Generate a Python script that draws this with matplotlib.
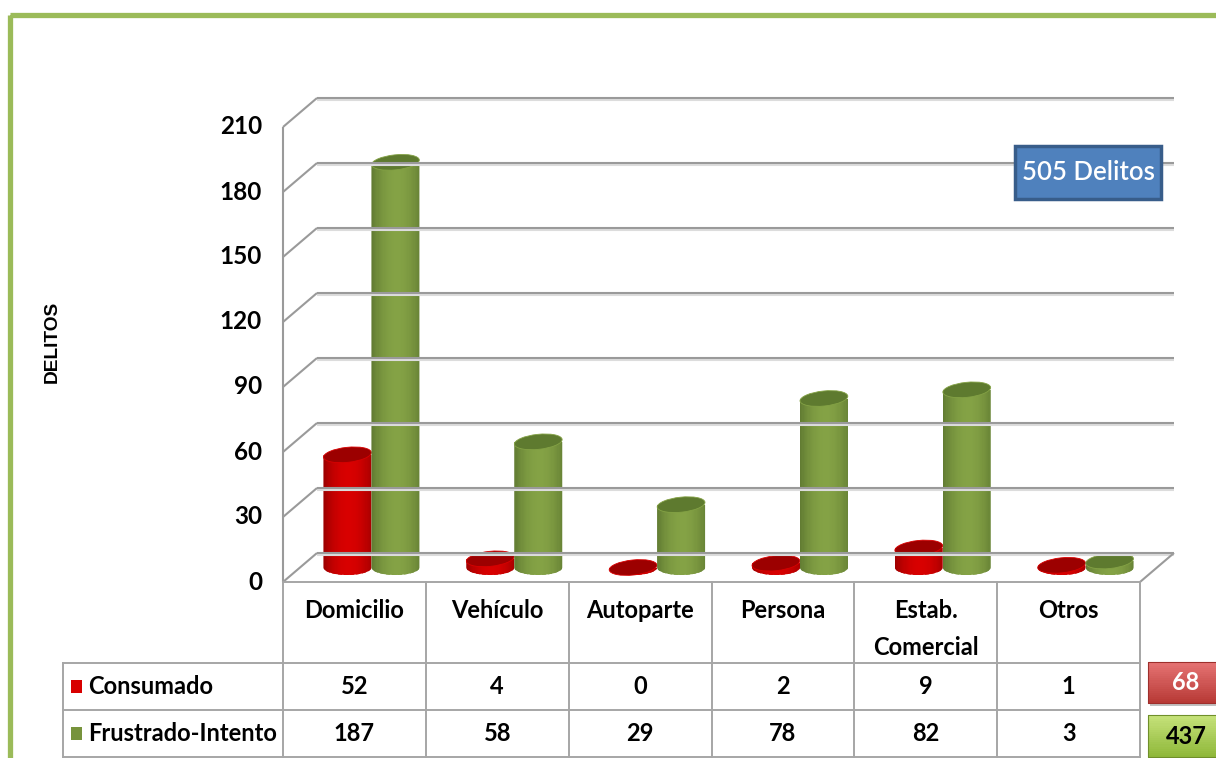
import matplotlib
matplotlib.use("Agg")
import matplotlib.pyplot as plt
import matplotlib.transforms as mtransforms
from matplotlib.patches import Rectangle, Ellipse, PathPatch
from matplotlib.path import Path
import matplotlib.colors as mcolors
import numpy as np

categories = ["Domicilio", "Vehículo", "Autoparte", "Persona", "Estab.\nComercial", "Otros"]
consumado = [52, 4, 0, 2, 9, 1]
frustrado = [187, 58, 29, 78, 82, 3]
series_names = ["Consumado", "Frustrado-Intento"]
yticks = [0, 30, 60, 90, 120, 150, 180, 210]
total_consumado = 68
total_frustrado = 437
total_label = "505 Delitos"

FONT = ["Lato", "DejaVu Sans"]
W, H = 1216, 758
DEPTH = (34, 29)           # pixel offset front -> back wall
BAR_PX = 48                # cylinder diameter in pixels
RY = 7.5                   # ellipse half-height

body_colors = {0: ("#8a0000", "#d80000"), 1: ("#566f2c", "#84a245")}
top_colors = {0: "#9c0000", 1: "#5e7a2f"}

fig = plt.figure(figsize=(W / 100, H / 100), dpi=100)
fig_px = mtransforms.Affine2D().scale(1, -1).translate(0, H)

ax = fig.add_axes([283 / W, (H - 582) / H, (1140 - 283) / W, (582 - 127) / H])
ax.set_xlim(0, len(categories))
ax.set_ylim(0, 210)
ax.axis("off")

back = mtransforms.offset_copy(ax.transData, x=DEPTH[0], y=DEPTH[1], units="dots")
mid = mtransforms.offset_copy(ax.transData, x=DEPTH[0] / 2, y=DEPTH[1] / 2, units="dots")
inv = ax.transData.inverted()


def at_depth(x, y, f):
    px, py = ax.transData.transform((x, y))
    return inv.transform((px + DEPTH[0] * f, py + DEPTH[1] * f))


grid_kw = dict(color="#9a9a9a", lw=1.5, solid_capstyle="butt", clip_on=False)
shadow_kw = dict(color="#dcdcdc", lw=1.5, solid_capstyle="butt", clip_on=False)
nx = len(categories)
below = mtransforms.offset_copy(back, x=0, y=-2, units="dots")
for v in yticks:
    ax.plot([0, nx], [v, v], transform=below, **shadow_kw)
    ax.plot([0, nx], [v, v], transform=back, **grid_kw)
    b = at_depth(0, v, 1)
    ax.plot([0, b[0]], [v, b[1]], **grid_kw)
    ax.text(0, v, str(v), transform=mtransforms.offset_copy(ax.transData, x=-21, y=0, units="dots"),
            ha="right", va="center", fontsize=17.5, fontweight="bold", family=FONT)
ax.plot([0, 0], [0, 210], **grid_kw)
b = at_depth(nx, 0, 1)
ax.plot([nx, b[0]], [0, b[1]], **grid_kw)

# cylinders
px_x = ax.transData.transform((1, 0))[0] - ax.transData.transform((0, 0))[0]
px_y = ax.transData.transform((0, 1))[1] - ax.transData.transform((0, 0))[1]
w = BAR_PX / px_x
r = BAR_PX / 2


def shade(c_edge, c_mid, t):
    f = np.sin(np.pi * np.clip(t * 0.85 + 0.05, 0, 1)) ** 0.8
    a = np.array(mcolors.to_rgb(c_edge))
    b = np.array(mcolors.to_rgb(c_mid))
    return a + (b - a) * f


for i in range(nx):
    for s, vals in enumerate([consumado, frustrado]):
        cx = i + 0.5 + (s - 0.5) * w
        h = vals[i] * px_y
        local = mtransforms.Affine2D() + mtransforms.ScaledTranslation(cx, 0, mid)
        th = np.linspace(np.pi, 2 * np.pi, 40)
        verts = [(-r, h), (-r, 0)] + [(r * np.cos(t), RY * np.sin(t)) for t in th] + [(r, h), (-r, h)]
        body = PathPatch(Path(verts), facecolor="none", edgecolor="none", transform=local)
        ax.add_patch(body)
        n = 40
        for k in range(n):
            x0 = -r + 2 * r * k / n
            strip = Rectangle((x0, -RY - 1), 2 * r / n + 0.8, h + RY + 1, lw=0,
                              facecolor=shade(*body_colors[s], (k + 0.5) / n), transform=local)
            ax.add_patch(strip)
            strip.set_clip_path(body)
        ax.add_patch(Ellipse((0, h), 2 * r, 2 * RY, angle=6, facecolor=top_colors[s],
                             edgecolor=shade(*body_colors[s], 0.5), lw=0.6, transform=local))

# table
col_x = [ax.transData.transform((c, 0))[0] for c in range(nx + 1)]
left_x = 63
line_kw = dict(color="#a6a6a6", lw=1.4, transform=fig_px)
row_y = [582, 663, 710, 757]
fig.add_artist(plt.Line2D([col_x[0], col_x[-1]], [582, 582], **line_kw))
for y in row_y[1:]:
    fig.add_artist(plt.Line2D([left_x, col_x[-1]], [y, y], **line_kw))
for x in col_x:
    fig.add_artist(plt.Line2D([x, x], [582, 757], **line_kw))
fig.add_artist(plt.Line2D([left_x, left_x], [663, 757], **line_kw))

txt_kw = dict(fontsize=17, fontweight="bold", family=FONT, transform=fig_px)
for i, name in enumerate(categories):
    xc = (col_x[i] + col_x[i + 1]) / 2
    fig.text(xc, 599, name, ha="center", va="top", linespacing=1.75, **txt_kw)
for row, (name, vals) in enumerate(zip(series_names, [consumado, frustrado])):
    yc = (row_y[row + 1] + row_y[row + 2]) / 2
    fig.add_artist(Rectangle((71, yc - 7), 11, 13, facecolor=body_colors[row][1] if row == 0 else "#77933c",
                             edgecolor="none", transform=fig_px))
    fig.text(88, yc, name, ha="left", va="center", **txt_kw)
    for i, v in enumerate(vals):
        xc = (col_x[i] + col_x[i + 1]) / 2
        fig.text(xc, yc, str(v), ha="center", va="center", **txt_kw)

# totals boxes
for (val, y0, y1, c_top, c_bot, ec, tc) in [(total_consumado, 662, 703, "#e57373", "#b83a36", "#9e2f2c", "white"),
                                            (total_frustrado, 715, 757, "#c6e27a", "#8fb83a", "#6f8f2a", "black")]:
    fig.add_artist(Rectangle((1150, y0 + 3), 70, y1 - y0, facecolor="#c0c0c0", edgecolor="none", transform=fig_px))
    n = 20
    for k in range(n):
        t = k / (n - 1)
        col = np.array(mcolors.to_rgb(c_top)) * (1 - t) + np.array(mcolors.to_rgb(c_bot)) * t
        fig.add_artist(Rectangle((1148, y0 + (y1 - y0) * k / n), 70, (y1 - y0) / n + 0.6,
                                 facecolor=col, edgecolor="none", transform=fig_px))
    fig.add_artist(Rectangle((1148, y0), 70, y1 - y0, facecolor="none", edgecolor=ec, lw=0.8, transform=fig_px))
    fig.text(1186, (y0 + y1) / 2, str(val), ha="center", va="center", color=tc, fontsize=17,
             fontweight="bold", family=FONT, transform=fig_px)

# total label
fig.add_artist(Rectangle((1015, 146), 146, 53, facecolor="#4f81bd", edgecolor="#385d8a", lw=2.5,
                         transform=fig_px))
fig.text(1088, 173, total_label, ha="center", va="center", color="white", fontsize=18.5,
         fontweight="semibold", family=FONT, transform=fig_px)

fig.text(52, 342, "DELITOS", rotation=90, ha="center", va="center", fontsize=13.8,
         fontweight="bold", family=["Liberation Sans", "DejaVu Sans"], transform=fig_px)

# outer frame
fig.add_artist(Rectangle((10, 15), 1300, 900, facecolor="none", edgecolor="#9bbb59", lw=3.8,
                         transform=fig_px))

fig.savefig("out.png", dpi=100)
